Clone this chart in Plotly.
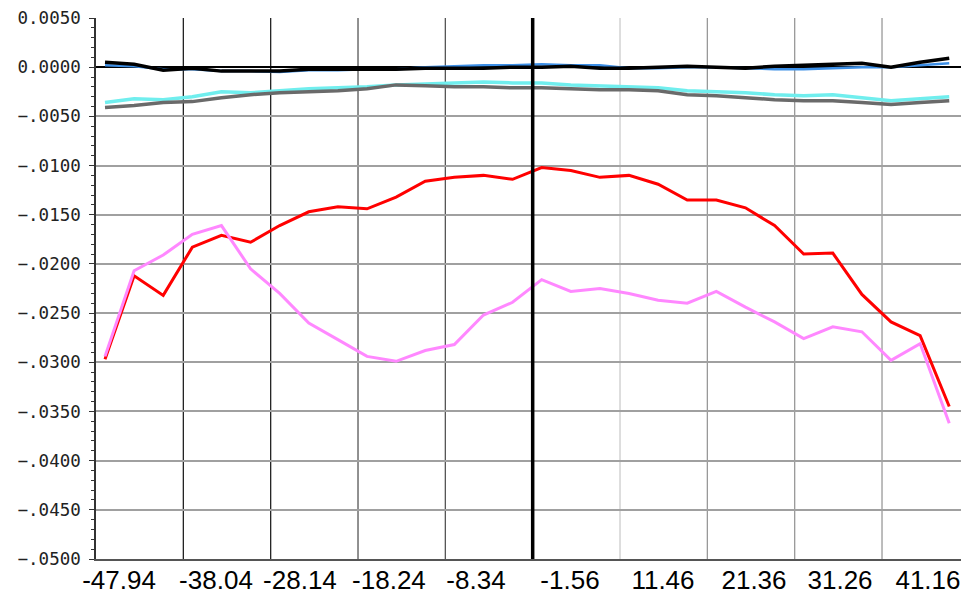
import plotly.graph_objects as go

# x values of the 30 samples
x_vals = [-47.94, -44.64, -41.34, -38.04, -34.74, -31.44, -28.14, -24.84, -21.54, -18.24,
          -14.94, -11.64, -8.34, -5.04, -1.74, 1.56, 4.86, 8.16, 11.46, 14.76,
          18.06, 21.36, 24.66, 27.96, 31.26, 34.56, 37.86, 41.16, 44.46, 47.76]

black_vals = [0.0005, 0.0003, -0.0003, -0.0001, -0.0004, -0.0004, -0.0004, -0.0002, -0.0002, -0.0002,
              -0.0002, -0.0001, -0.0001, -0.0001, 0.0000, 0.0000, 0.0001, -0.0001, -0.0001, 0.0000,
              0.0001, 0.0000, -0.0001, 0.0001, 0.0002, 0.0003, 0.0004, 0.0000, 0.0005, 0.0009]
blue_vals = [0.0002, 0.0001, -0.0002, -0.0002, -0.0004, -0.0004, -0.0005, -0.0003, -0.0003, -0.0002,
             -0.0002, 0.0000, 0.0001, 0.0002, 0.0002, 0.0003, 0.0002, 0.0002, -0.0001, -0.0001,
             0.0000, 0.0000, -0.0001, -0.0002, -0.0002, -0.0001, 0.0000, 0.0000, 0.0002, 0.0004]
cyan_vals = [-0.0036, -0.0032, -0.0033, -0.0030, -0.0025, -0.0026, -0.0024, -0.0022, -0.0021, -0.0020,
             -0.0018, -0.0017, -0.0016, -0.0015, -0.0016, -0.0016, -0.0018, -0.0019, -0.0020, -0.0021,
             -0.0024, -0.0025, -0.0026, -0.0028, -0.0029, -0.0028, -0.0031, -0.0034, -0.0032, -0.0030]
gray_vals = [-0.0041, -0.0039, -0.0036, -0.0035, -0.0031, -0.0028, -0.0026, -0.0025, -0.0024, -0.0022,
             -0.0018, -0.0019, -0.0020, -0.0020, -0.0021, -0.0021, -0.0022, -0.0023, -0.0023, -0.0024,
             -0.0028, -0.0029, -0.0031, -0.0033, -0.0034, -0.0034, -0.0036, -0.0038, -0.0036, -0.0034]
red_vals = [-0.0297, -0.0212, -0.0232, -0.0183, -0.0171, -0.0178, -0.0161, -0.0147, -0.0142, -0.0144,
            -0.0132, -0.0116, -0.0112, -0.0110, -0.0114, -0.0102, -0.0105, -0.0112, -0.0110, -0.0119,
            -0.0135, -0.0135, -0.0143, -0.0161, -0.0190, -0.0189, -0.0231, -0.0259, -0.0273, -0.0345]
pink_vals = [-0.0294, -0.0207, -0.0191, -0.0170, -0.0161, -0.0205, -0.0230, -0.0260, -0.0277, -0.0294,
             -0.0299, -0.0288, -0.0282, -0.0252, -0.0239, -0.0216, -0.0228, -0.0225, -0.0230, -0.0237,
             -0.0240, -0.0228, -0.0244, -0.0259, -0.0276, -0.0264, -0.0269, -0.0298, -0.0281, -0.0362]

# tick labels
x_labels = ['-47.94', '-38.04', '-28.14', '-18.24', '-8.34', '-1.56', '11.46', '21.36', '31.26', '41.16']
y_tickvals = [0.005, 0.0, -0.005, -0.01, -0.015, -0.02, -0.025, -0.03, -0.035, -0.04, -0.045, -0.05]
y_labels = ['0.0050', '0.0000', '\u2212.0050', '\u2212.0100', '\u2212.0150', '\u2212.0200', '\u2212.0250',
            '\u2212.0300', '\u2212.0350', '\u2212.0400', '\u2212.0450', '\u2212.0500']

# where the overlaid x labels sit, and the vertical grid of the original plot
x_label_pos = [-46.35, -35.36, -25.84, -15.75, -5.89, 4.77, 15.31, 25.63, 35.38, 45.35]
grid0, grid_step = 0.54, 9.9
grid_colors = ['#222222', '#222222', '#555555', '#555555', None, '#cccccc', '#999999', '#999999', '#999999']

fig = go.Figure()

series = [
    (blue_vals, '#3d8fe6', 2.5),
    (black_vals, '#000000', 3.5),
    (cyan_vals, '#70eeee', 3.5),
    (gray_vals, '#6a6a6a', 3.5),
    (red_vals, '#ff0000', 3),
    (pink_vals, '#ff88ff', 3),
]
for vals, color, width in series:
    fig.add_trace(go.Scatter(x=x_vals, y=vals, mode='lines',
                             line=dict(color=color, width=width), hoverinfo='skip'))

shapes = []
for k, c in zip(range(-4, 5), grid_colors):
    xv = grid0 + k * grid_step
    if c is None:
        shapes.append(dict(type='line', xref='x', yref='paper', x0=xv, x1=xv, y0=0, y1=1,
                           line=dict(color='black', width=3.5), layer='above'))
    else:
        shapes.append(dict(type='line', xref='x', yref='paper', x0=xv, x1=xv, y0=0, y1=1,
                           line=dict(color=c, width=1.3), layer='below'))

# the page body has an 8px margin, so the figure is 8px smaller than the window
fig.update_layout(
    width=961, height=587,
    margin=dict(l=88, r=0, t=10, b=36),
    paper_bgcolor='white', plot_bgcolor='white',
    showlegend=False,
    shapes=shapes,
    xaxis=dict(
        range=[-48.96, 50.0],
        tickvals=x_label_pos, ticktext=x_labels,
        tickangle=0, automargin=False,
        showgrid=False, zeroline=False, ticks='',
        ticklabelstandoff=-3,
        showline=True, linecolor='#555555', linewidth=2,
        tickfont=dict(family='Liberation Sans, Arial, sans-serif', size=26, color='black'),
    ),
    yaxis=dict(
        range=[-0.05, 0.005],
        tickvals=y_tickvals, ticktext=y_labels,
        automargin=False,
        showgrid=True, gridcolor='#a0a0a0', gridwidth=1.5,
        zeroline=True, zerolinecolor='black', zerolinewidth=1.5,
        ticks='outside', ticklen=5, tickcolor='#333333',
        ticklabelstandoff=5,
        minor=dict(dtick=0.001, tick0=0, ticks='outside', ticklen=3, tickcolor='#333333', showgrid=False),
        showline=True, linecolor='#333333', linewidth=1.5,
        tickfont=dict(family='DejaVu Sans Mono', size=17.5, color='#222222'),
    ),
)

fig.write_html('out.html')
